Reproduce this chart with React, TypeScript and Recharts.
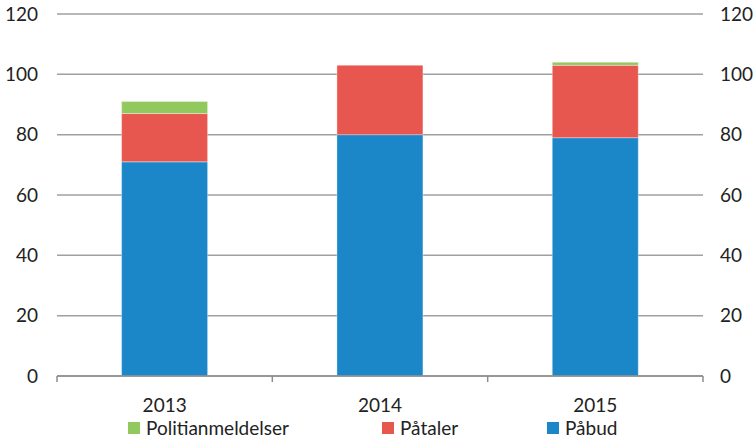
import React from "react";
import { ComposedChart, Bar, Line, XAxis, YAxis, CartesianGrid, Legend } from "recharts";

const years = ["2013", "2014", "2015"];
const paabud = [71, 80, 79];
const paataler = [16, 23, 24];
const politianmeldelser = [4, 0, 1];
const yTicks = [0, 20, 40, 60, 80, 100, 120];

const data = years.map((year, i) => ({
  year,
  paabud: paabud[i],
  paataler: paataler[i],
  politi: politianmeldelser[i],
}));

const W = 756;
const H = 441;
const LEFT_W = 57;
const RIGHT_W = 53;
const bandWidth = (W - LEFT_W - RIGHT_W) / years.length;

const font = "Lato, 'Open Sans', sans-serif";
const textColor = "#222";
const axisColor = "#8c8c8c";

// category label plus tick marks on the category boundaries
const XTick = (props: any) => {
  const { x, y, payload, index } = props;
  const half = bandWidth / 2;
  const axisY = y - 8;
  return (
    <g>
      <line x1={x - half} x2={x - half} y1={axisY} y2={axisY + 6} stroke={axisColor} strokeWidth={1.5} />
      {index === years.length - 1 && (
        <line x1={x + half} x2={x + half} y1={axisY} y2={axisY + 6} stroke={axisColor} strokeWidth={1.5} />
      )}
      <text x={x} y={y + 28} textAnchor="middle" fill={textColor} fontSize={19} fontFamily={font}>
        {payload.value}
      </text>
    </g>
  );
};

const legendItems = [
  { label: "Politianmeldelser", color: "#92c95f", x: 128 },
  { label: "Påtaler", color: "#e8574f", x: 382 },
  { label: "Påbud", color: "#1b87c8", x: 547 },
];

const LegendContent = () => (
  <div style={{ position: "relative", width: W, height: 30 }}>
    {legendItems.map((it) => (
      <div
        key={it.label}
        style={{
          position: "absolute",
          left: it.x,
          top: 0,
          display: "flex",
          alignItems: "center",
          fontFamily: font,
          fontSize: 19,
          color: textColor,
        }}
      >
        <span style={{ width: 12, height: 12, background: it.color, display: "inline-block", marginRight: 6 }} />
        {it.label}
      </div>
    ))}
  </div>
);

export default function App() {
  return (
    <div style={{ position: "absolute", left: 0, top: 0, width: W, height: H, background: "#fff" }}>
      <ComposedChart width={W} height={H} data={data} barCategoryGap="30%" margin={{ top: 14, right: 0, bottom: 0, left: 0 }}>
        <CartesianGrid yAxisId="left" horizontal vertical={false} stroke="#a0a0a0" strokeWidth={1.5} />
        <XAxis
          dataKey="year"
          axisLine={{ stroke: axisColor, strokeWidth: 1.5 }}
          tickLine={false}
          tick={<XTick />}
          height={40}
          interval={0}
        />
        <YAxis
          yAxisId="left"
          orientation="left"
          width={LEFT_W}
          domain={[0, 120]}
          ticks={yTicks}
          axisLine={false}
          tickLine={false}
          tickMargin={13}
          tick={{ fontSize: 19, fill: textColor, fontFamily: font }}
        />
        <YAxis
          yAxisId="right"
          orientation="right"
          width={RIGHT_W}
          domain={[0, 120]}
          ticks={yTicks}
          axisLine={false}
          tickLine={false}
          tickMargin={11}
          tick={{ fontSize: 19, fill: textColor, fontFamily: font }}
        />
        <Legend verticalAlign="bottom" height={25} content={<LegendContent />} />
        <Bar yAxisId="left" dataKey="paabud" stackId="a" fill="#1b87c8" stroke="#ffffff" strokeOpacity={0.35} isAnimationActive={false} />
        <Bar yAxisId="left" dataKey="paataler" stackId="a" fill="#e8574f" stroke="#ffffff" strokeOpacity={0.35} isAnimationActive={false} />
        <Bar yAxisId="left" dataKey="politi" stackId="a" fill="#92c95f" stroke="#ffffff" strokeOpacity={0.35} isAnimationActive={false} />
        {/* invisible series so the right axis gets drawn */}
        <Line yAxisId="right" dataKey="paabud" stroke="none" dot={false} activeDot={false} legendType="none" isAnimationActive={false} />
      </ComposedChart>
    </div>
  );
}
